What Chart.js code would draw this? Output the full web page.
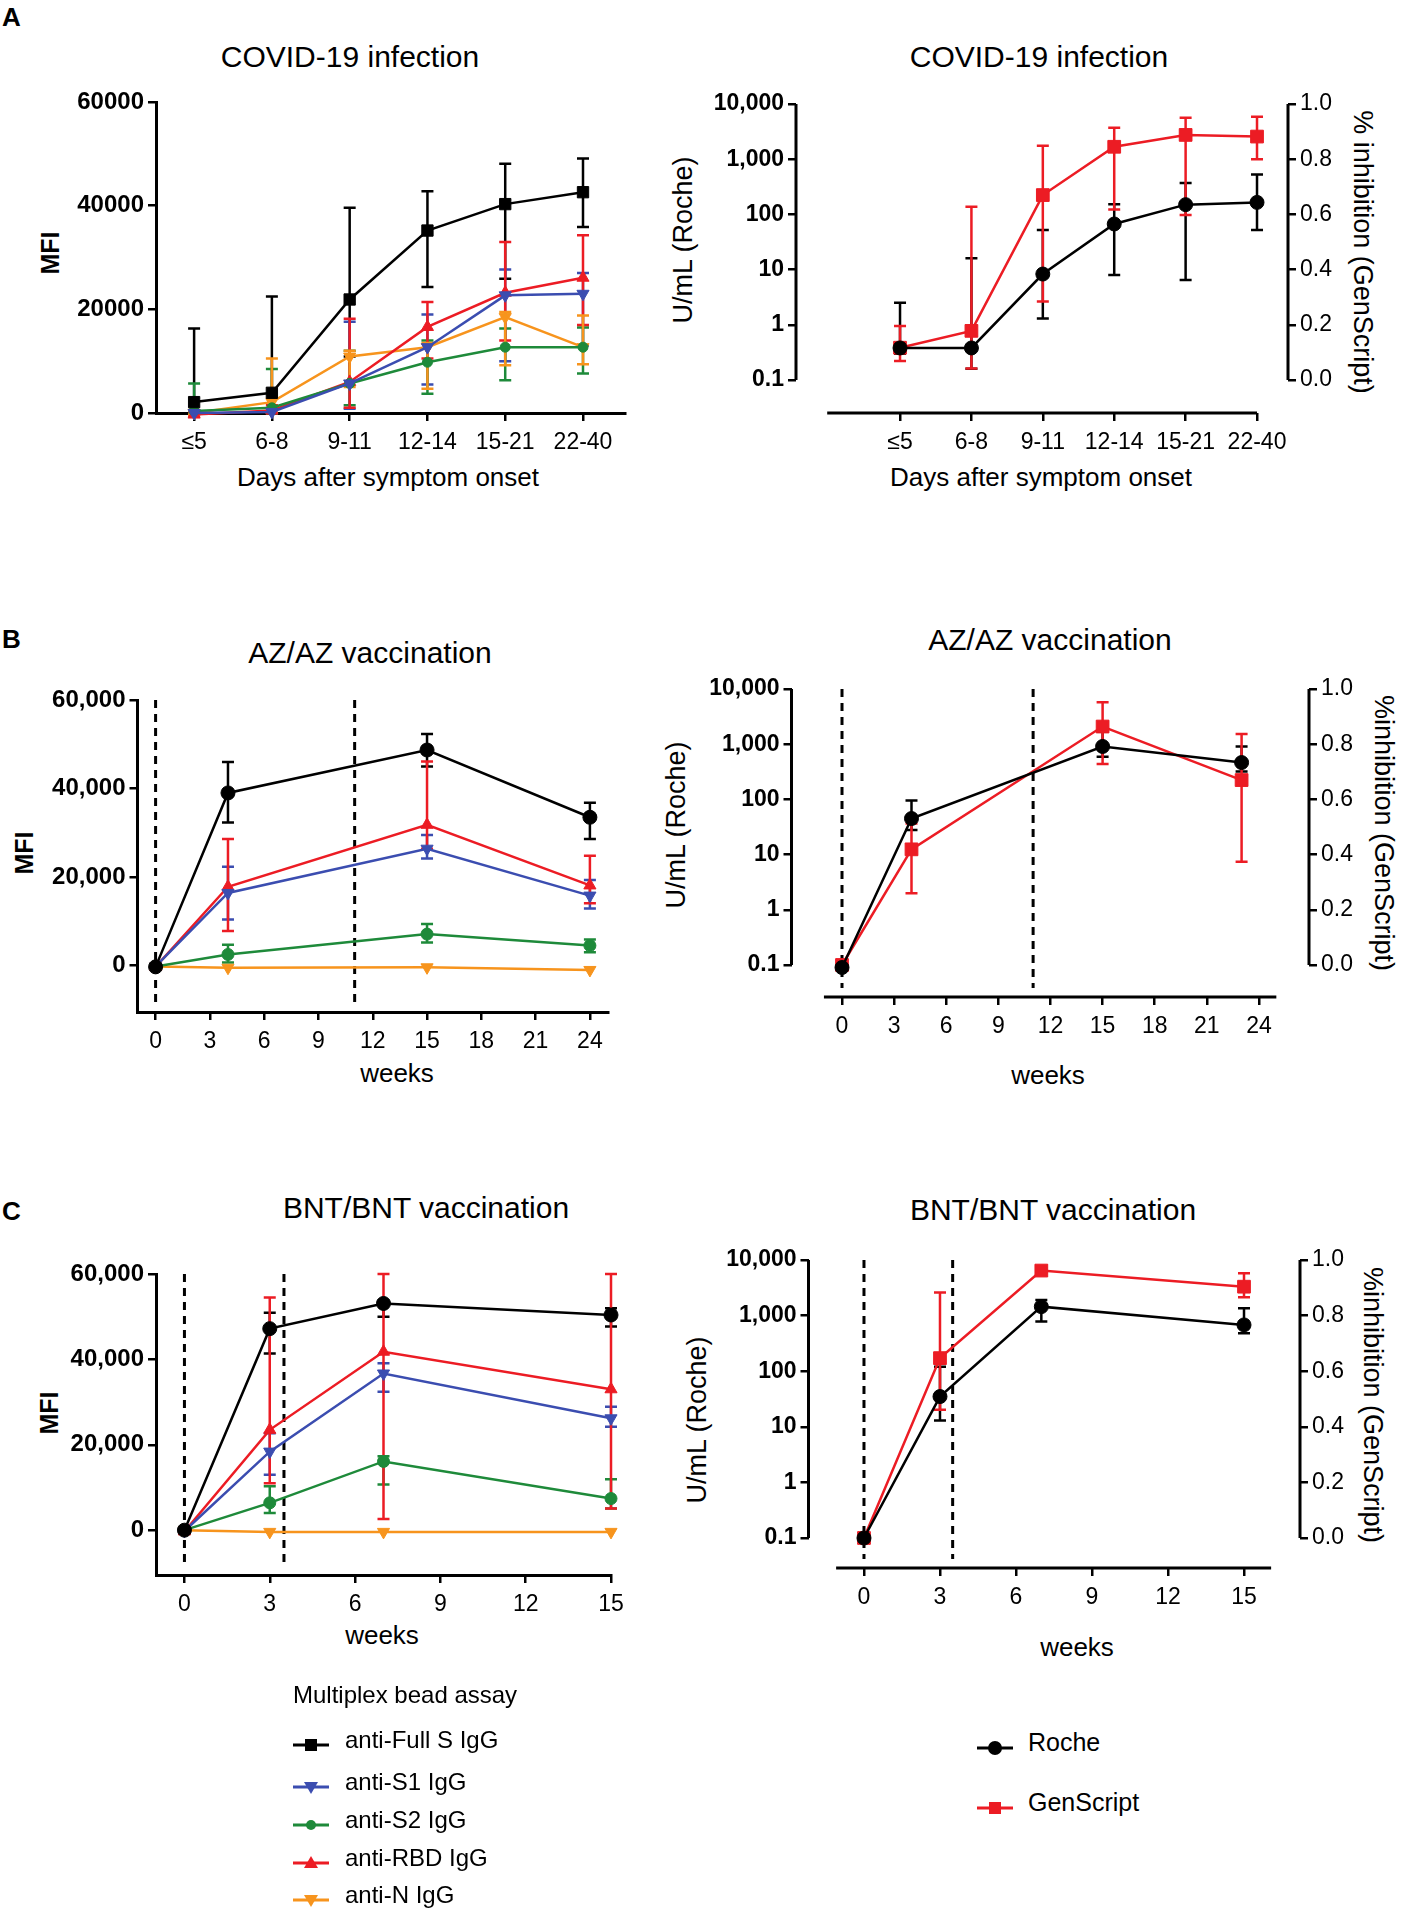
<!DOCTYPE html>
<html>
<head>
<meta charset="utf-8">
<script src="https://cdn.jsdelivr.net/npm/chart.js@4.4.1/dist/chart.umd.min.js"></script>
<style>
  body { margin: 0; background: #fff; }
  #page { position: relative; width: 1405px; height: 1911px; font-family: 'Liberation Sans', Arial, sans-serif; color: #000; }
  canvas { position: absolute; }
  .t { position: absolute; white-space: nowrap; transform: translate(-50%, -50%); }
  .ttl { font-size: 30px; }
  .ax { font-size: 26px; }
  .vax { font-size: 27px; }
  .rot { transform: translate(-50%, -50%) rotate(-90deg); }
  .rotr { transform: translate(-50%, -50%) rotate(90deg); }
  .letter { position: absolute; font-weight: bold; font-size: 26px; }
  .leg { position: absolute; font-size: 24px; white-space: nowrap; }
</style>
</head>
<body>
<div id="page">
  <div class="letter" style="left:2px;top:2px;">A</div>
  <div class="letter" style="left:2px;top:624px;">B</div>
  <div class="letter" style="left:2px;top:1196px;">C</div>

  <div class="t ttl" style="left:350px;top:57px;">COVID-19 infection</div>
  <div class="t ttl" style="left:1039px;top:57px;">COVID-19 infection</div>
  <div class="t ttl" style="left:370px;top:653px;">AZ/AZ vaccination</div>
  <div class="t ttl" style="left:1050px;top:640px;">AZ/AZ vaccination</div>
  <div class="t ttl" style="left:426px;top:1208px;">BNT/BNT vaccination</div>
  <div class="t ttl" style="left:1053px;top:1210px;">BNT/BNT vaccination</div>

  <div class="t rot" style="left:50px;top:253px;font-size:25px;font-weight:bold;">MFI</div>
  <div class="t rot vax" style="left:683px;top:240px;">U/mL (Roche)</div>
  <div class="t rotr vax" style="left:1362px;top:252px;">% inhibition (GenScript)</div>
  <div class="t ax" style="left:388px;top:477px;">Days after symptom onset</div>
  <div class="t ax" style="left:1041px;top:477px;">Days after symptom onset</div>

  <div class="t rot" style="left:24px;top:853px;font-size:25px;font-weight:bold;">MFI</div>
  <div class="t rot vax" style="left:676px;top:825px;">U/mL (Roche)</div>
  <div class="t rotr vax" style="left:1383px;top:833px;">%inhibition (GenScript)</div>
  <div class="t ax" style="left:397px;top:1073px;">weeks</div>
  <div class="t ax" style="left:1048px;top:1075px;">weeks</div>

  <div class="t rot" style="left:49px;top:1413px;font-size:25px;font-weight:bold;">MFI</div>
  <div class="t rot vax" style="left:697px;top:1420px;">U/mL (Roche)</div>
  <div class="t rotr vax" style="left:1372px;top:1405px;">%inhibition (GenScript)</div>
  <div class="t ax" style="left:382px;top:1635px;">weeks</div>
  <div class="t ax" style="left:1077px;top:1647px;">weeks</div>

  <canvas id="aLeft"></canvas>
  <canvas id="aRight"></canvas>
  <canvas id="bLeft"></canvas>
  <canvas id="bRight"></canvas>
  <canvas id="cLeft"></canvas>
  <canvas id="cRight"></canvas>

  <div id="legendLeft"></div>
  <div id="legendRight"></div>
</div>

<script>
// ---- Panel A: COVID-19 infection ----
const covidDays = ['≤5', '6-8', '9-11', '12-14', '15-21', '22-40'];
const covidX = [0, 1, 2, 3, 4, 5];

const covidFullS = [2100, 3900, 21900, 35200, 40300, 42600];
const covidFullSLow = [0, 0, 10900, 24300, 25900, 35900];
const covidFullSHigh = [16300, 22500, 39600, 42800, 48100, 49100];
const covidS1 = [0, 200, 5700, 12700, 22700, 23000];
const covidS1Low = [-300, 0, 800, 5500, 10000, 13000];
const covidS1High = [300, 800, 17600, 19000, 27700, 27000];
const covidS2 = [400, 1000, 5700, 9800, 12700, 12700];
const covidS2Low = [0, 0, 1500, 3700, 6300, 7600];
const covidS2High = [5700, 8500, 12000, 14000, 16300, 16500];
const covidRBD = [-300, 500, 6000, 16600, 23200, 26100];
const covidRBDLow = [-600, 0, 1000, 10500, 14000, 17000];
const covidRBDHigh = [300, 1500, 18200, 21400, 33000, 34300];
const covidN = [0, 2100, 10900, 12700, 18500, 12700];
const covidNLow = [-300, 0, 5000, 4700, 9200, 9400];
const covidNHigh = [600, 10500, 12000, 13500, 19500, 18800];

const covidRoche = [0.38, 0.38, 8.3, 67, 150, 165];
const covidRocheLow = [0.3, 0.16, 1.3, 8, 6.5, 52];
const covidRocheHigh = [2.5, 16, 52, 152, 370, 530];
const covidGen = [0.117, 0.178, 0.670, 0.845, 0.888, 0.882];
const covidGenLow = [0.069, 0.042, 0.284, 0.618, 0.598, 0.800];
const covidGenHigh = [0.196, 0.628, 0.849, 0.914, 0.950, 0.954];

// ---- Panel B: AZ/AZ vaccination ----
const azWeeks = [0, 4, 15, 24];
const azFullS = [-300, 39000, 48700, 33500];
const azFullSLow = [-300, 32300, 45000, 28600];
const azFullSHigh = [-300, 46000, 52300, 36800];
const azS1 = [-200, 16400, 26400, 15800];
const azS1Low = [-200, 10400, 24200, 12900];
const azS1High = [-200, 22300, 29500, 19300];
const azS2 = [-200, 2500, 7100, 4500];
const azS2Low = [-200, 700, 5200, 3000];
const azS2High = [-200, 4700, 9400, 5900];
const azRBD = [-300, 17800, 31800, 18100];
const azRBDLow = [-300, 7800, 26400, 14100];
const azRBDHigh = [-300, 28600, 46100, 24800];
const azN = [-200, -500, -400, -1000];

const azSeroWeeks = [0, 4, 15, 23];
const azRoche = [0.09, 45, 910, 465];
const azRocheLow = [0.09, 28, 590, 320];
const azRocheHigh = [0.09, 95, 1700, 910];
const azGen = [0, 0.419, 0.864, 0.670];
const azGenLow = [0, 0.260, 0.728, 0.374];
const azGenHigh = [0, 0.513, 0.952, 0.837];

// ---- Panel C: BNT/BNT vaccination ----
const bntWeeks = [0, 3, 7, 15];
const bntFullS = [0, 47200, 53100, 50400];
const bntFullSLow = [0, 41400, 50000, 47700];
const bntFullSHigh = [0, 50900, 53800, 52000];
const bntS1 = [-200, 18400, 36700, 26200];
const bntS1Low = [-200, 13000, 32400, 24200];
const bntS1High = [-200, 22700, 39100, 28900];
const bntS2 = [0, 6400, 16100, 7400];
const bntS2Low = [0, 4000, 10700, 5100];
const bntS2High = [0, 10300, 17300, 11900];
const bntRBD = [-300, 23500, 41800, 33000];
const bntRBDLow = [-300, 11000, 2600, 5100];
const bntRBDHigh = [-300, 54500, 60000, 60000];
const bntN = [0, -400, -400, -400];

const bntRoche = [0.1, 35, 1450, 680];
const bntRocheLow = [0.1, 13, 780, 480];
const bntRocheHigh = [0.1, 120, 1900, 1350];
const bntGen = [0, 0.647, 0.962, 0.904];
const bntGenLow = [0, 0.461, 0.955, 0.866];
const bntGenHigh = [0, 0.883, 0.970, 0.952];

// ---- axis ticks ----
const mfiTicks = [0, 20000, 40000, 60000];
const rocheTicks = [0.1, 1, 10, 100, 1000, 10000];
const genTicks = [0, 0.2, 0.4, 0.6, 0.8, 1.0];
const azWeekTicks = [0, 3, 6, 9, 12, 15, 18, 21, 24];
const bntWeekTicks = [0, 3, 6, 9, 12, 15];

const colors = {
    fullS: '#000000',
    s1: '#3b4db0',
    s2: '#1e8a3a',
    rbd: '#ec1c24',
    n: '#f7941d',
    roche: '#000000',
    gen: '#ec1c24'
};

Chart.defaults.font.family = "'Liberation Sans', Arial, sans-serif";
Chart.defaults.color = '#000';
Chart.defaults.animation = false;

// error bars, dashed markers and GraphPad-style offset axes
const prismPlugin = {
    id: 'prism',
    beforeDatasetsDraw(chart, args, opts) {
        const ctx = chart.ctx;
        const xs = chart.scales.x;
        ctx.save();
        // dashed vaccination markers
        (opts.dashed || []).forEach(v => {
            const px = xs.getPixelForValue(v);
            const top = chart.scales.y.getPixelForValue(opts.dashTop);
            ctx.beginPath();
            ctx.setLineDash([8, 6]);
            ctx.lineWidth = 3;
            ctx.strokeStyle = '#000';
            ctx.moveTo(px, top);
            ctx.lineTo(px, chart.chartArea.bottom - 9);
            ctx.stroke();
        });
        ctx.setLineDash([]);
        // error bars
        chart.data.datasets.forEach(ds => {
            if (!ds.errLow) return;
            const ys = chart.scales[ds.yAxisID || 'y'];
            ctx.strokeStyle = ds.borderColor;
            ctx.lineWidth = 2.5;
            ds.data.forEach((p, j) => {
                const px = xs.getPixelForValue(p.x);
                const hi = ys.getPixelForValue(ds.errHigh[j]);
                const lo = ys.getPixelForValue(ds.errLow[j]);
                const cap = 6;
                ctx.beginPath();
                ctx.moveTo(px, hi); ctx.lineTo(px, lo);
                ctx.moveTo(px - cap, hi); ctx.lineTo(px + cap, hi);
                ctx.moveTo(px - cap, lo); ctx.lineTo(px + cap, lo);
                ctx.stroke();
            });
        });
        ctx.restore();
    },
    afterDraw(chart, args, opts) {
        const ctx = chart.ctx;
        ctx.save();
        ctx.strokeStyle = '#000';
        ctx.lineWidth = 3;
        if (opts.xLine) {
            const xs = chart.scales.x;
            const y = chart.chartArea.bottom;
            ctx.beginPath();
            ctx.moveTo(xs.getPixelForValue(opts.xLine[0]), y);
            ctx.lineTo(xs.getPixelForValue(opts.xLine[1]), y);
            ctx.stroke();
        }
        if (opts.yLine) {
            const s = chart.scales.y;
            ctx.beginPath();
            ctx.moveTo(s.left + s.width, s.getPixelForValue(opts.yLine[0]));
            ctx.lineTo(s.left + s.width, s.getPixelForValue(opts.yLine[1]));
            ctx.stroke();
        }
        if (opts.y1Line) {
            const s = chart.scales.y1;
            ctx.beginPath();
            ctx.moveTo(s.left, s.getPixelForValue(opts.y1Line[0]));
            ctx.lineTo(s.left, s.getPixelForValue(opts.y1Line[1]));
            ctx.stroke();
        }
        ctx.restore();
    }
};

function series(label, xs, ys, lo, hi, color, style, extra) {
    return Object.assign({
        label: label,
        data: xs.map((x, i) => ({ x: x, y: ys[i] })),
        errLow: lo,
        errHigh: hi,
        borderColor: color,
        backgroundColor: color,
        borderWidth: 2.5,
        pointStyle: style,
        pointRadius: 7,
        pointBorderWidth: 1,
        tension: 0,
        clip: false
    }, extra || {});
}

function tickGrid() {
    return { display: true, drawOnChartArea: false, drawTicks: true, tickLength: 8, lineWidth: 2.5, color: '#000' };
}

// place canvas on the page and pin the chart area to page coordinates
function makeChart(id, box, area, cfg) {
    const el = document.getElementById(id);
    el.width = box.w; el.height = box.h;
    el.style.left = box.x + 'px'; el.style.top = box.y + 'px';
    const sc = cfg.options.scales;
    const leftW = area.l - box.x;
    const rightW = box.x + box.w - area.r;
    const bottomH = box.y + box.h - area.b;
    sc.y.afterFit = s => { s.width = leftW; };
    sc.x.afterFit = s => { s.height = bottomH; };
    let padRight = rightW;
    if (sc.y1) {
        sc.y1.afterFit = s => { s.width = rightW; };
        padRight = 0;
    }
    cfg.options.layout = { padding: { top: area.t - box.y, right: padRight, left: 0, bottom: 0 } };
    cfg.options.responsive = false;
    cfg.options.devicePixelRatio = 1;
    cfg.options.plugins = Object.assign({ legend: { display: false }, tooltip: { enabled: false } }, cfg.options.plugins);
    cfg.plugins = [prismPlugin];
    return new Chart(el, cfg);
}

const fmtThousands = v => v >= 1 ? Number(v).toLocaleString('en-US') : String(v);

function mfiY(min, commas) {
    return {
        type: 'linear', min: min, max: 60000,
        afterBuildTicks: s => { s.ticks = mfiTicks.map(v => ({ value: v })); },
        ticks: { font: { size: 24, weight: 'bold' }, padding: 4,
                 callback: v => commas ? Number(v).toLocaleString('en-US') : String(v) },
        grid: tickGrid(),
        border: { display: true, width: 3, color: '#000' }
    };
}

function weekX(min, max, ticks, border) {
    return {
        type: 'linear', min: min, max: max,
        afterBuildTicks: s => { s.ticks = ticks.map(v => ({ value: v })); },
        ticks: { font: { size: 23 }, padding: 8, maxRotation: 0, callback: v => String(v) },
        grid: tickGrid(),
        border: { display: border, width: 3, color: '#000' }
    };
}

function covidAxis(min, max, border) {
    return {
        type: 'linear', min: min, max: max,
        afterBuildTicks: s => { s.ticks = covidX.map(v => ({ value: v })); },
        ticks: { font: { size: 23 }, padding: 8, maxRotation: 0, callback: v => covidDays[v] },
        grid: tickGrid(),
        border: { display: border, width: 3, color: '#000' }
    };
}

function rocheY(min) {
    return {
        type: 'logarithmic', position: 'left', min: min, max: 10000,
        afterBuildTicks: s => { s.ticks = rocheTicks.map(v => ({ value: v })); },
        ticks: { font: { size: 23, weight: 'bold' }, padding: 4, callback: v => fmtThousands(v) },
        grid: tickGrid(),
        border: { display: false }
    };
}

function genY1(min) {
    return {
        type: 'linear', position: 'right', min: min, max: 1.0,
        afterBuildTicks: s => { s.ticks = genTicks.map(v => ({ value: v })); },
        ticks: { font: { size: 23 }, padding: 4, callback: v => Number(v).toFixed(1) },
        grid: tickGrid(),
        border: { display: false }
    };
}

// ---- A left: multiplex MFI ----
makeChart('aLeft', { x: 40, y: 80, w: 620, h: 400 }, { l: 156, t: 102, r: 625, b: 413 }, {
    type: 'line',
    data: {
        datasets: [
            series('anti-Full S IgG', covidX, covidFullS, covidFullSLow, covidFullSHigh, colors.fullS, 'rect', { pointRadius: 8 }),
            series('anti-S1 IgG', covidX, covidS1, covidS1Low, covidS1High, colors.s1, 'triangle', { pointRotation: 180 }),
            series('anti-S2 IgG', covidX, covidS2, covidS2Low, covidS2High, colors.s2, 'circle', { pointRadius: 5 }),
            series('anti-RBD IgG', covidX, covidRBD, covidRBDLow, covidRBDHigh, colors.rbd, 'triangle'),
            series('anti-N IgG', covidX, covidN, covidNLow, covidNHigh, colors.n, 'triangle', { pointRotation: 180 })
        ]
    },
    options: {
        scales: {
            x: covidAxis(-0.49, 5.54, true),
            y: mfiY(0, false)
        }
    }
});

// ---- A right: Roche / GenScript ----
makeChart('aRight', { x: 700, y: 80, w: 640, h: 400 }, { l: 796, t: 104, r: 1288, b: 413 }, {
    type: 'line',
    data: {
        datasets: [
            series('Roche', covidX, covidRoche, covidRocheLow, covidRocheHigh, colors.roche, 'circle', { yAxisID: 'y' }),
            series('GenScript', covidX, covidGen, covidGenLow, covidGenHigh, colors.gen, 'rect', { yAxisID: 'y1', pointRadius: 9 })
        ]
    },
    options: {
        scales: {
            x: covidAxis(-1.457, 5.434, false),
            y: rocheY(0.0252),
            y1: genY1(-0.1196)
        },
        plugins: { prism: { xLine: [-1.02, 5], yLine: [0.1, 10000], y1Line: [0, 1] } }
    }
});

// ---- B left ----
makeChart('bLeft', { x: 20, y: 660, w: 640, h: 440 }, { l: 137.5, t: 700, r: 608, b: 1012 }, {
    type: 'line',
    data: {
        datasets: [
            series('anti-Full S IgG', azWeeks, azFullS, azFullSLow, azFullSHigh, colors.fullS, 'circle'),
            series('anti-S1 IgG', azWeeks, azS1, azS1Low, azS1High, colors.s1, 'triangle', { pointRotation: 180 }),
            series('anti-S2 IgG', azWeeks, azS2, azS2Low, azS2High, colors.s2, 'circle', { pointRadius: 6 }),
            series('anti-RBD IgG', azWeeks, azRBD, azRBDLow, azRBDHigh, colors.rbd, 'triangle'),
            series('anti-N IgG', azWeeks, azN, null, null, colors.n, 'triangle', { pointRotation: 180 })
        ]
    },
    options: {
        scales: {
            x: weekX(-1, 25, azWeekTicks, true),
            y: mfiY(-10500, true)
        },
        plugins: { prism: { dashed: [0, 11], dashTop: 60000 } }
    }
});

// ---- B right ----
makeChart('bRight', { x: 700, y: 660, w: 660, h: 440 }, { l: 791.5, t: 689, r: 1309, b: 997 }, {
    type: 'line',
    data: {
        datasets: [
            series('Roche', azSeroWeeks, azRoche, azRocheLow, azRocheHigh, colors.roche, 'circle', { yAxisID: 'y' }),
            series('GenScript', azSeroWeeks, azGen, azGenLow, azGenHigh, colors.gen, 'rect', { yAxisID: 'y1', pointRadius: 9 })
        ]
    },
    options: {
        scales: {
            x: weekX(-2.907, 26.88, azWeekTicks, false),
            y: rocheY(0.0263),
            y1: genY1(-0.116)
        },
        plugins: { prism: { xLine: [-1.04, 25], yLine: [0.1, 10000], y1Line: [0, 1], dashed: [0, 11], dashTop: 10000 } }
    }
});

// ---- C left ----
makeChart('cLeft', { x: 40, y: 1240, w: 620, h: 460 }, { l: 156, t: 1274, r: 611, b: 1575 }, {
    type: 'line',
    data: {
        datasets: [
            series('anti-Full S IgG', bntWeeks, bntFullS, bntFullSLow, bntFullSHigh, colors.fullS, 'circle'),
            series('anti-S1 IgG', bntWeeks, bntS1, bntS1Low, bntS1High, colors.s1, 'triangle', { pointRotation: 180 }),
            series('anti-S2 IgG', bntWeeks, bntS2, bntS2Low, bntS2High, colors.s2, 'circle', { pointRadius: 6 }),
            series('anti-RBD IgG', bntWeeks, bntRBD, bntRBDLow, bntRBDHigh, colors.rbd, 'triangle'),
            series('anti-N IgG', bntWeeks, bntN, null, null, colors.n, 'triangle', { pointRotation: 180 })
        ]
    },
    options: {
        scales: {
            x: weekX(-1, 15, bntWeekTicks, true),
            y: mfiY(-10500, true)
        },
        plugins: { prism: { dashed: [0, 3.5], dashTop: 60000 } }
    }
});

// ---- C right ----
makeChart('cRight', { x: 700, y: 1230, w: 660, h: 470 }, { l: 808.5, t: 1260, r: 1300, b: 1568 }, {
    type: 'line',
    data: {
        datasets: [
            series('Roche', bntWeeks, bntRoche, bntRocheLow, bntRocheHigh, colors.roche, 'circle', { yAxisID: 'y' }),
            series('GenScript', bntWeeks, bntGen, bntGenLow, bntGenHigh, colors.gen, 'rect', { yAxisID: 'y1', pointRadius: 9 })
        ]
    },
    options: {
        scales: {
            x: weekX(-2.19, 17.21, bntWeekTicks, false),
            y: rocheY(0.0289),
            y1: genY1(-0.108)
        },
        plugins: { prism: { xLine: [-1.1, 16.07], yLine: [0.1, 10000], y1Line: [0, 1], dashed: [0, 3.5], dashTop: 10000 } }
    }
});

// ---- legends ----
const mfiLegend = [
    { label: 'anti-Full S IgG', color: colors.fullS, shape: 'square' },
    { label: 'anti-S1 IgG', color: colors.s1, shape: 'down' },
    { label: 'anti-S2 IgG', color: colors.s2, shape: 'dot' },
    { label: 'anti-RBD IgG', color: colors.rbd, shape: 'up' },
    { label: 'anti-N IgG', color: colors.n, shape: 'down' }
];
const mfiLegendY = [1740, 1782, 1820, 1858, 1895];
const seroLegend = [
    { label: 'Roche', color: colors.roche, shape: 'circle' },
    { label: 'GenScript', color: colors.gen, shape: 'square' }
];
const seroLegendY = [1743, 1803];

function glyph(shape, color) {
    let m = '';
    if (shape === 'square') m = `<rect x="12" y="5" width="12" height="12" fill="${color}"/>`;
    if (shape === 'circle') m = `<circle cx="18" cy="11" r="7" fill="${color}"/>`;
    if (shape === 'dot') m = `<circle cx="18" cy="11" r="5" fill="${color}"/>`;
    if (shape === 'up') m = `<polygon points="18,4 25,16 11,16" fill="${color}"/>`;
    if (shape === 'down') m = `<polygon points="11,6 25,6 18,18" fill="${color}"/>`;
    return `<svg width="36" height="22" style="vertical-align:middle"><line x1="0" y1="11" x2="36" y2="11" stroke="${color}" stroke-width="3"/>${m}</svg>`;
}

function buildLegend(el, items, ys, x, textX, size) {
    items.forEach((it, i) => {
        const row = document.createElement('div');
        row.className = 'leg';
        row.style.left = x + 'px';
        row.style.top = (ys[i] - 11) + 'px';
        row.innerHTML = glyph(it.shape, it.color);
        const txt = document.createElement('div');
        txt.className = 'leg';
        txt.style.fontSize = size + 'px';
        txt.style.left = textX + 'px';
        txt.style.top = (ys[i] - size * 0.6) + 'px';
        txt.textContent = it.label;
        el.appendChild(row);
        el.appendChild(txt);
    });
}

const legLeft = document.getElementById('legendLeft');
const head = document.createElement('div');
head.className = 'leg';
head.style.left = '293px'; head.style.top = '1681px';
head.textContent = 'Multiplex bead assay';
legLeft.appendChild(head);
buildLegend(legLeft, mfiLegend, mfiLegendY, 293, 345, 24);
buildLegend(document.getElementById('legendRight'), seroLegend, seroLegendY, 977, 1028, 25);
</script>
</body>
</html>
